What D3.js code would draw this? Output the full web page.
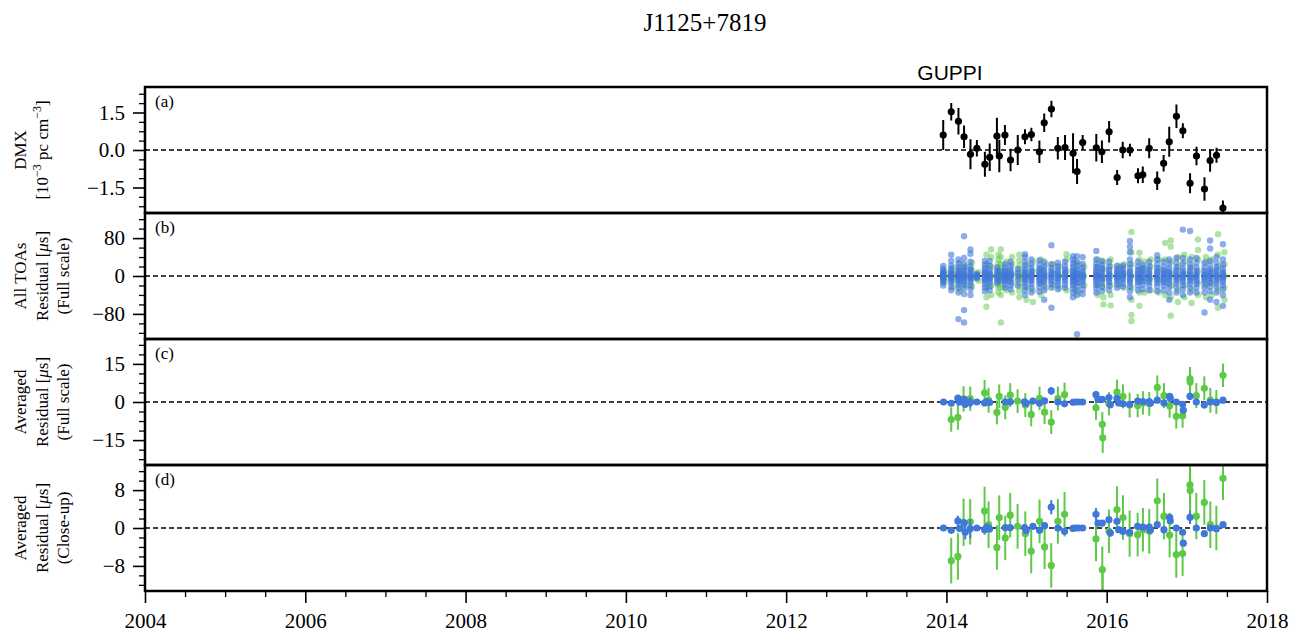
<!DOCTYPE html>
<html><head><meta charset="utf-8">
<script src="https://cdn.jsdelivr.net/npm/d3@7"></script>
<style>body{margin:0;background:#fff}svg{display:block}
.tk text{font-family:'Liberation Serif','Times New Roman',serif !important;font-size:21px !important;fill:#000}
</style>
</head><body><svg id="c" width="1302" height="636"></svg>
<script>
// ---------- DATA ----------
const title = "J1125+7819";
const backendLabel = "GUPPI";
const xDomain = [2004, 2018];
const xTicks = [2004, 2006, 2008, 2010, 2012, 2014, 2016, 2018];

// (a) DMX per epoch [1e-3 pc cm^-3]
const epochs = [2013.96,2014.06,2014.15,2014.22,2014.30,2014.38,2014.48,2014.54,2014.63,2014.66,2014.73,2014.80,2014.89,2014.98,2015.06,2015.16,2015.22,2015.31,2015.39,2015.48,2015.58,2015.63,2015.70,2015.87,2015.94,2016.03,2016.13,2016.20,2016.29,2016.39,2016.45,2016.53,2016.63,2016.71,2016.78,2016.87,2016.95,2017.04,2017.12,2017.22,2017.29,2017.37,2017.45];
const dmx = [0.60,1.53,1.15,0.53,-0.17,0.07,-0.57,-0.29,0.56,-0.24,0.60,-0.40,0.00,0.53,0.62,-0.07,1.09,1.64,0.07,0.10,-0.13,-0.86,0.30,0.09,-0.07,0.73,-1.10,0.00,0.00,-1.03,-0.99,0.07,-1.23,-0.53,0.33,1.35,0.77,-1.33,-0.24,-1.56,-0.42,-0.21,-2.32];
const dmxErr = [0.60,0.35,0.53,0.45,0.60,0.33,0.50,0.55,0.73,0.65,0.40,0.45,0.60,0.30,0.27,0.45,0.37,0.33,0.45,0.50,0.80,0.50,0.30,0.55,0.45,0.43,0.30,0.33,0.25,0.30,0.33,0.40,0.37,0.33,0.60,0.47,0.30,0.40,0.37,0.47,0.45,0.30,0.30];

// (b) all TOA residuals [us], per epoch
const toaBlue = [
 [-20,-14,-10,-7,-5,-3,-1,0,1,3,5,7,10,15,21],
 [-30,-22,-15,-10,-6,-4,-2,0,2,4,6,10,15,22,32,45],
 [-91,-35,-25,-18,-12,-8,-5,-2,0,2,5,8,12,18,26,35],
 [-98,-72,-38,-26,-18,-12,-8,-4,-1,2,5,9,13,18,26,38,84],
 [-40,-28,-20,-13,-8,-4,-1,2,5,9,14,20,30,47,56],
 [-5,-3,-1,1,3,5],
 [-32,-24,-17,-11,-7,-4,-1,2,5,8,12,17,24,32],
 [-30,-22,-14,-9,-5,-2,1,4,8,14,22,32],
 [-15,-8,-2,4,10,18],
 [-10,-3,3,10],
 [-25,-18,-12,-8,-5,-2,0,2,5,8,12,18,25],
 [-28,-20,-13,-8,-4,-1,2,5,9,14,21,30],
 [-20,-8,0,6,15],
 [-40,-30,-22,-15,-10,-6,-3,0,3,6,10,15,22,30,40,46],
 [-35,-25,-17,-11,-7,-3,0,3,7,11,17,25,35],
 [-33,-24,-16,-11,-7,-3,0,3,7,11,16,24,33],
 [-50,-30,-20,-13,-8,-4,0,4,8,13,20,30],
 [-67,-25,-17,-11,-6,-2,2,6,11,17,25,65],
 [-28,-20,-13,-8,-4,0,4,8,13,20,28],
 [-25,-18,-11,-6,-2,2,6,10,15,22,30],
 [-45,-35,-26,-19,-14,-9,-5,-2,1,4,8,13,19,26,35,42],
 [-123,-40,-30,-21,-14,-8,-4,0,4,8,14,21,30,42],
 [-38,-28,-19,-12,-7,-3,1,5,10,17,26,40],
 [-35,-26,-19,-13,-8,-4,-1,2,5,9,13,19,26,35,53],
 [-32,-22,-15,-9,-5,-1,3,7,12,17,24,32],
 [-30,-20,-13,-8,-4,0,4,8,13,20,30],
 [-25,-17,-11,-6,-2,2,6,10,15,22],
 [-22,-15,-9,-5,-1,3,7,12,17,22],
 [-45,-32,-22,-15,-10,-6,-2,2,6,10,16,25,35,50,62,74],
 [-30,-20,-13,-8,-4,0,4,8,13,20,30],
 [-28,-18,-11,-6,-2,2,6,11,17,24],
 [-30,-20,-13,-8,-4,0,4,8,13,20,30],
 [-32,-22,-15,-9,-5,-1,3,7,11,17,25,35,44],
 [-30,-20,-13,-8,-4,0,4,8,13,20,30],
 [-50,-35,-24,-16,-10,-6,-2,2,6,10,16,25,35],
 [-35,-24,-16,-10,-5,-1,3,7,12,18,28,38],
 [-40,-28,-19,-12,-7,-3,1,5,10,16,26,38,98],
 [-35,-25,-17,-11,-6,-2,2,6,11,17,25,35,95],
 [-35,-25,-17,-11,-6,-2,2,6,11,18,28,38],
 [-77,-35,-24,-16,-10,-6,-2,2,6,11,18,28],
 [-50,-32,-22,-14,-9,-4,0,4,9,14,22,32,58,75],
 [-55,-35,-24,-16,-10,-5,-1,3,7,12,18,28,40],
 [-63,-40,-28,-19,-12,-7,-3,1,5,9,15,24,35,67]
];
const toaGreen = [
 [-12,-4,3,10],
 [-25,-10,5,18],
 [-30,-15,0,14,28],
 [-20,0,20],
 [-22,-5,12,28],
 [-10,8],
 [-65,-45,-25,0,25,45],
 [-40,-20,0,20,40,56],
 [-35,-25,-18,-12,-7,-3,0,3,7,12,18,26,35,45],
 [-98,-40,-25,-12,0,12,25,40,56],
 [-30,-10,10,30],
 [-35,-15,5,25,40],
 [-45,-32,-22,-14,-7,-2,3,8,15,23,33,45],
 [-50,-25,0,25],
 [-55,-30,10,30],
 [-40,-15,15,35],
 [-25,0,25],
 [-20,5,25],
 [-25,0,20],
 [-30,10,35,46],
 [-30,-10,10,30],
 [-35,-15,5,25],
 [-20,0,20],
 [-40,-20,0,20,35],
 [-60,-45,-25,-5,15,30],
 [-62,-40,-20,0,20,35],
 [-20,0,20],
 [-25,5,25],
 [-95,-82,-50,-25,0,25,50,93],
 [-63,-35,-10,15,35,49],
 [-35,-10,15,30],
 [-30,-5,20,35],
 [-35,-10,15,35],
 [-40,-15,10,35,70],
 [-84,-45,-20,5,30,62,75],
 [-55,-30,-5,20,40],
 [-45,-20,5,30,45],
 [-57,-30,-5,20,40],
 [-40,-15,10,35,55,77],
 [-45,-20,5,30,40],
 [-40,-15,10,35],
 [-67,-30,-5,20,45,88],
 [-50,-25,0,25,50]
];

// (c)/(d) averaged residuals [us]
const avgBlueYear = [2013.964,2014.060,2014.143,2014.164,2014.222,2014.235,2014.297,2014.380,2014.476,2014.505,2014.538,2014.734,2014.796,2014.975,2014.996,2015.079,2015.162,2015.225,2015.308,2015.391,2015.474,2015.579,2015.608,2015.649,2015.699,2015.866,2015.891,2015.945,2016.028,2016.045,2016.128,2016.149,2016.203,2016.286,2016.386,2016.452,2016.531,2016.544,2016.631,2016.714,2016.785,2016.793,2016.868,2016.947,2016.956,2017.039,2017.118,2017.218,2017.293,2017.368,2017.451];
const avgBlueVal = [0,-0.5,1.5,-0.1,1.05,-0.9,-0.15,0,-0.35,0.2,-0.2,0.1,0.1,0.1,-0.55,0.35,-0.5,0.5,4.4,0,-0.7,-0.1,0,0,0,2.9,1.05,1.05,1.75,-1.05,1.4,-0.35,-0.7,-0.9,0.35,0.2,0.2,-0.5,0.7,-0.35,2.25,1.5,0,-0.9,-3.2,2.25,0,-1.2,0,-0.15,0.7];
const avgBlueErr = [0.4,0.4,1.1,0.5,0.8,1.5,2.0,0.4,0.5,0.4,0.4,0.4,0.4,0.4,0.6,0.5,0.5,0.5,1.5,0.4,0.5,0.6,0.4,0.4,0.4,1.3,0.5,0.5,0.7,0.8,0.5,0.4,0.5,0.6,0.5,0.4,0.6,0.5,0.5,0.5,0.5,0.5,0.4,0.5,0.6,1.4,0.4,0.5,0.4,0.4,0.5];
const avgGreenYear = [2014.060,2014.143,2014.214,2014.297,2014.476,2014.526,2014.630,2014.659,2014.734,2014.796,2014.888,2014.984,2015.058,2015.162,2015.225,2015.308,2015.391,2015.474,2015.866,2015.945,2015.950,2016.028,2016.128,2016.203,2016.286,2016.386,2016.452,2016.531,2016.631,2016.714,2016.785,2016.868,2016.947,2017.039,2017.041,2017.118,2017.218,2017.293,2017.368,2017.451];
const avgGreenVal = [-6.9,-6.0,1.2,1.3,3.6,0.7,-4.1,2.2,-2.1,2.7,0.35,-1.2,-4.9,1.4,-4.0,-7.9,1.4,2.9,-2.3,-8.8,-14.1,-0.7,3.9,2.2,-1.2,-1.4,-0.35,-0.7,5.75,2.5,-1.5,-5.6,-5.4,9.1,7.9,2.5,5.4,0.7,0,10.5];
const avgGreenErr = [4.8,4.9,5.0,4.8,5.1,4.9,4.7,4.7,4.7,4.7,4.7,4.7,4.7,4.6,4.7,4.7,4.7,4.7,4.7,4.9,6.0,4.6,4.9,4.7,4.9,4.6,4.6,4.7,4.7,4.9,4.7,4.9,4.7,4.7,4.6,4.9,4.7,4.9,4.7,4.6];

const panelLetters = ["(a)","(b)","(c)","(d)"];
const yDomains = [[-2.52,2.52],[-133,133],[-24.8,24.8],[-13.3,13.3]];
const yMajor = [[-1.5,0,1.5],[-80,0,80],[-15,0,15],[-8,0,8]];
const yMinorStep = [0.375,20,3.75,2];
const yTickFmt = [d=>d3.format(".1f")(d).replace("-","\u2212"), d=>String(d).replace("-","\u2212"), d=>String(d).replace("-","\u2212"), d=>String(d).replace("-","\u2212")];

// ---------- LAYOUT ----------
const svg = d3.select("#c");
const L = 145, R = 1267, panelTop = [87,213,339,465], PH = 126;
const serif = "'Liberation Serif','Times New Roman',serif";
const BLUE = "#3f77da", GREEN = "#5ec947";
const x = d3.scaleLinear().domain(xDomain).range([L, R]);

svg.append("text").attr("x",705).attr("y",31).attr("text-anchor","middle")
  .attr("font-family",serif).attr("font-size",25).text(title);
svg.append("text").attr("x",950).attr("y",80).attr("text-anchor","middle")
  .attr("font-family","'Liberation Sans',Arial,sans-serif").attr("font-size",21).text(backendLabel);

const ys = [];
const gs = [];
panelTop.forEach((top,i)=>{
  const y = d3.scaleLinear().domain(yDomains[i]).range([top+PH, top]);
  ys.push(y);
  const g = svg.append("g");
  gs.push(g);
  svg.append("clipPath").attr("id","clip"+i).append("rect")
    .attr("x",L).attr("y",top).attr("width",R-L).attr("height",PH);
  const ax = d3.axisLeft(y).tickValues(yMajor[i]).tickSize(12).tickPadding(8).tickFormat(yTickFmt[i]);
  const gy = svg.append("g").attr("class","tk").attr("transform",`translate(${L},0)`).call(ax);
  gy.select(".domain").remove();
  gy.selectAll("line").attr("stroke","#000").attr("stroke-width",1.6);
  const st = yMinorStep[i];
  const minors = d3.range(Math.ceil(yDomains[i][0]/st), Math.floor(yDomains[i][1]/st)+1)
    .map(k=>k*st).filter(v=>!yMajor[i].some(m=>Math.abs(m-v)<1e-9));
  const gm = svg.append("g").attr("transform",`translate(${L},0)`)
    .call(d3.axisLeft(y).tickValues(minors).tickSize(6).tickFormat(""));
  gm.select(".domain").remove();
  gm.selectAll("line").attr("stroke","#000").attr("stroke-width",1.3);
  g.append("line").attr("x1",L).attr("x2",R).attr("y1",y(0)).attr("y2",y(0))
    .attr("stroke","#000").attr("stroke-width",1.4).attr("stroke-dasharray","5,3");
  svg.append("text").attr("x",155).attr("y",top+20).attr("font-family",serif)
    .attr("font-size",17).text(panelLetters[i]);
});

// (a) DMX
const gA = gs[0].append("g").attr("clip-path","url(#clip0)");
epochs.forEach((t,k)=>{
  gA.append("line").attr("x1",x(t)).attr("x2",x(t))
    .attr("y1",ys[0](dmx[k]-dmxErr[k])).attr("y2",ys[0](dmx[k]+dmxErr[k]))
    .attr("stroke","#000").attr("stroke-width",2);
});
gA.selectAll("circle").data(epochs).join("circle")
  .attr("cx",d=>x(d)).attr("cy",(d,k)=>ys[0](dmx[k])).attr("r",3.6).attr("fill","#000");

// (b) all TOAs
const gB = gs[1].append("g").attr("clip-path","url(#clip1)");
epochs.forEach((t,k)=>{
  toaGreen[k].forEach(v=>gB.append("circle").attr("cx",x(t)+1.5).attr("cy",ys[1](v)).attr("r",3.2)
    .attr("fill",GREEN).attr("fill-opacity",0.5));
});
epochs.forEach((t,k)=>{
  toaBlue[k].forEach(v=>gB.append("circle").attr("cx",x(t)).attr("cy",ys[1](v)).attr("r",3.2)
    .attr("fill",BLUE).attr("fill-opacity",0.6));
});

// (c),(d) averaged
[2,3].forEach(i=>{
  const g = gs[i].append("g").attr("clip-path",`url(#clip${i})`);
  const y = ys[i];
  const draw = (yr,val,err,col)=>{
    yr.forEach((t,k)=>{
      g.append("line").attr("x1",x(t)).attr("x2",x(t))
        .attr("y1",y(val[k]-err[k])).attr("y2",y(val[k]+err[k]))
        .attr("stroke",col).attr("stroke-width",2);
      g.append("circle").attr("cx",x(t)).attr("cy",y(val[k])).attr("r",3.6).attr("fill",col);
    });
  };
  draw(avgGreenYear,avgGreenVal,avgGreenErr,GREEN);
  draw(avgBlueYear,avgBlueVal,avgBlueErr,BLUE);
});

// panel borders
panelTop.forEach(top=>{
  svg.append("rect").attr("x",L).attr("y",top).attr("width",R-L).attr("height",PH)
    .attr("fill","none").attr("stroke","#000").attr("stroke-width",2.5);
});

// x axis
const xMinor = d3.range(2004,2018.01,0.5).filter(v=>v%2!==0);
const gx = svg.append("g").attr("class","tk").attr("transform",`translate(0,${panelTop[3]+PH})`)
  .call(d3.axisBottom(x).tickValues(xTicks).tickSize(12).tickPadding(10).tickFormat(d3.format("d")));
gx.select(".domain").remove();
gx.selectAll("line").attr("stroke","#000").attr("stroke-width",1.6);
const gxm = svg.append("g").attr("transform",`translate(0,${panelTop[3]+PH})`)
  .call(d3.axisBottom(x).tickValues(xMinor).tickSize(6).tickFormat(""));
gxm.select(".domain").remove();
gxm.selectAll("line").attr("stroke","#000").attr("stroke-width",1.3);

// y labels
const lineX = [20,42,63];
function ylabel(i, lines){
  const cy = panelTop[i]+PH/2;
  lines.forEach((ln,j)=>{
    const lx = lineX[j];
    const t = svg.append("text").attr("transform",`translate(${lx+6},${cy}) rotate(-90)`)
      .attr("text-anchor","middle").attr("font-family",serif).attr("font-size",17);
    ln.forEach(seg=>{
      const ts = t.append("tspan").text(seg.t);
      if(seg.it) ts.attr("font-style","italic");
      if(seg.sup){ ts.attr("font-size",12).attr("dy",-7); }
      if(seg.down){ ts.attr("dy",7); }
    });
  });
}
ylabel(0,[[{t:"DMX"}],[{t:"[10"},{t:"\u22123",sup:true},{t:" pc cm",down:true},{t:"\u22123",sup:true},{t:"]",down:true}]]);
ylabel(1,[[{t:"All TOAs"}],[{t:"Residual ["},{t:"\u03bc",it:true},{t:"s]"}],[{t:"(Full scale)"}]]);
ylabel(2,[[{t:"Averaged"}],[{t:"Residual ["},{t:"\u03bc",it:true},{t:"s]"}],[{t:"(Full scale)"}]]);
ylabel(3,[[{t:"Averaged"}],[{t:"Residual ["},{t:"\u03bc",it:true},{t:"s]"}],[{t:"(Close-up)"}]]);
</script></body></html>
